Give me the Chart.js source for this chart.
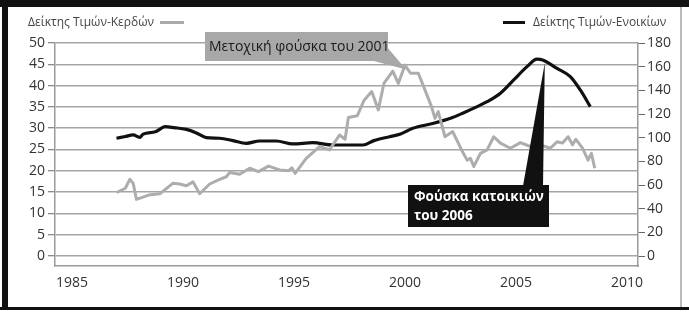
<!DOCTYPE html>
<html>
<head>
<meta charset="utf-8">
<script src="https://cdn.jsdelivr.net/npm/chart.js@4.4.0/dist/chart.umd.min.js"></script>
<style>
  html, body { margin: 0; padding: 0; background: #fff; }
  #wrap { position: relative; width: 689px; height: 312px; overflow: hidden; font-family: "Open Sans", sans-serif; }
  #c { position: absolute; left: 0; top: 0; }
  .bar { position: absolute; }
  .leg { position: absolute; top: 14px; font-size: 12px; line-height: 16px; color: #444; white-space: nowrap; }
  .dash { display: inline-block; height: 3px; vertical-align: middle; }
</style>
</head>
<body>
<div id="wrap">
  <canvas id="c" width="689" height="312"></canvas>
  <div class="bar" style="left:0;top:0;width:689px;height:7px;background:#111"></div>
  <div class="bar" style="left:2px;top:0;width:6px;height:310px;background:#111"></div>
  <div class="bar" style="left:0;top:307px;width:689px;height:3px;background:#111"></div>
  <div class="bar" style="left:680px;top:7px;width:2px;height:300px;background:#bbb"></div>
  <div class="leg" style="left:28px">Δείκτης Τιμών-Κερδών <span class="dash" style="width:24px;background:#aaa;margin-left:3px"></span></div>
  <div class="leg" style="left:503px"><span class="dash" style="width:22px;background:#111;margin-right:8px"></span>Δείκτης Τιμών-Ενοικίων</div>
</div>
<script>
// Δείκτης Τιμών-Κερδών (αριστερός άξονας)
const peYears = [1987.0,1987.4,1987.6,1987.75,1987.9,1988.45,1988.95,1989.55,1989.85,1990.15,1990.45,1990.75,1991.2,1991.65,1991.95,1992.1,1992.55,1993.0,1993.4,1993.85,1994.35,1994.75,1994.9,1995.05,1995.55,1996.15,1996.6,1997.05,1997.3,1997.45,1997.85,1998.15,1998.5,1998.8,1999.05,1999.45,1999.7,2000.0,2000.25,2000.6,2000.9,2001.2,2001.35,2001.5,2001.8,2002.15,2002.55,2002.8,2002.95,2003.1,2003.4,2003.7,2004.0,2004.3,2004.75,2005.2,2005.65,2006.1,2006.55,2006.85,2007.1,2007.35,2007.55,2007.7,2008.0,2008.25,2008.4,2008.55];
const peValues = [14.9,15.9,18.0,17.1,13.3,14.3,14.6,17.1,16.9,16.5,17.4,14.6,16.9,18.0,18.6,19.6,19.2,20.6,19.8,21.1,20.2,20.0,20.7,19.4,22.9,25.7,24.9,28.4,27.4,32.5,32.9,36.5,38.6,34.3,40.5,43.4,40.5,44.8,42.9,42.9,39.0,35.0,32.3,33.9,28.0,29.2,24.9,22.5,22.9,21.0,24.1,24.9,28.0,26.5,25.3,26.6,25.7,26.1,25.3,26.8,26.5,28.0,26.1,27.4,25.3,22.5,24.1,20.6];

// Δείκτης Τιμών-Ενοικίων (δεξιός άξονας)
const rentYears = [1987.0,1987.4,1987.75,1988.05,1988.2,1988.75,1989.2,1989.6,1990.15,1990.6,1991.05,1991.65,1992.25,1992.85,1993.45,1994.2,1994.95,1995.85,1996.75,1997.5,1998.1,1998.6,1999.3,1999.8,2000.35,2001.25,2002.05,2002.65,2003.25,2003.7,2004.3,2004.9,2005.5,2005.95,2006.2,2006.85,2007.45,2007.9,2008.35];
const rentValues = [99.5,101,102.3,100.3,103,105,109.3,108.5,107,104,100,99.5,97.5,95.2,97.2,97.2,94.7,95.8,93.8,93.8,93.8,97.5,100.8,103,107.9,112,116.4,121.1,126.2,130.4,137.5,148.8,160,166.3,165.7,158.6,151.6,140.3,126.2];

const yearTicks = [1985, 1990, 1995, 2000, 2005, 2010];
const leftTicks = [0, 5, 10, 15, 20, 25, 30, 35, 40, 45, 50];
const rightTicks = [0, 20, 40, 60, 80, 100, 120, 140, 160, 180];

const stockNote = 'Μετοχική φούσκα του 2001';
const houseNote = ['Φούσκα κατοικιών', 'του 2006'];

const zip = (xs, ys) => xs.map((x, i) => ({ x: x, y: ys[i] }));
const setTicks = list => axis => { axis.ticks = list.map(v => ({ value: v })); };

const calloutPlugin = {
  id: 'callouts',
  afterDatasetsDraw(chart) {
    const ctx = chart.ctx;
    const x = chart.scales.x, yl = chart.scales.yL, yr = chart.scales.yR;
    ctx.save();
    // stock bubble
    ctx.fillStyle = '#a8a8a8';
    ctx.beginPath();
    ctx.moveTo(370, 60);
    ctx.lineTo(387, 47);
    ctx.lineTo(x.getPixelForValue(2000.05), yl.getPixelForValue(43.8));
    ctx.closePath();
    ctx.fill();
    ctx.fillRect(205, 32, 183, 29);
    ctx.fillStyle = '#1a1a1a';
    ctx.font = '14px "Open Sans"';
    ctx.textBaseline = 'middle';
    ctx.fillText(stockNote, 209, 47);
    // housing bubble
    ctx.fillStyle = '#111';
    ctx.beginPath();
    ctx.moveTo(523, 186);
    ctx.lineTo(543, 186);
    ctx.lineTo(x.getPixelForValue(2006.3), yr.getPixelForValue(163));
    ctx.closePath();
    ctx.fill();
    ctx.fillRect(408, 185, 141, 42);
    ctx.fillStyle = '#fff';
    ctx.font = 'bold 13.5px "Open Sans"';
    ctx.fillText(houseNote[0], 414, 197);
    ctx.fillText(houseNote[1], 414, 216);
    ctx.restore();
  }
};

new Chart(document.getElementById('c'), {
  type: 'line',
  data: {
    datasets: [
      {
        label: 'Δείκτης Τιμών-Κερδών',
        data: zip(peYears, peValues),
        yAxisID: 'yL',
        borderColor: '#adadad',
        borderWidth: 3,
        pointRadius: 0,
        tension: 0,
        borderJoinStyle: 'round'
      },
      {
        label: 'Δείκτης Τιμών-Ενοικίων',
        data: zip(rentYears, rentValues),
        yAxisID: 'yR',
        borderColor: '#111111',
        borderWidth: 3.2,
        pointRadius: 0,
        cubicInterpolationMode: 'monotone',
        borderJoinStyle: 'round'
      }
    ]
  },
  options: {
    responsive: false,
    animation: false,
    devicePixelRatio: 1,
    layout: { padding: { top: 43, left: 0, right: 0, bottom: 0 } },
    plugins: { legend: { display: false }, tooltip: { enabled: false } },
    scales: {
      x: {
        type: 'linear',
        min: 1984.23,
        max: 2010.5,
        afterBuildTicks: setTicks(yearTicks),
        afterFit: s => { s.height = 46; },
        grid: { display: false, drawTicks: false },
        border: { display: true, color: '#9a9a9a', width: 1.5 },
        ticks: { color: '#333', padding: 9, maxRotation: 0, font: { family: 'Open Sans', size: 14 }, callback: v => String(v) }
      },
      yL: {
        position: 'left',
        min: -2.35,
        max: 50,
        afterBuildTicks: setTicks(leftTicks),
        afterFit: s => { s.width = 55; },
        grid: { color: '#a5a5a5', lineWidth: 1.5, tickLength: 7, tickColor: '#666', tickWidth: 1 },
        border: { display: true, color: '#9a9a9a', width: 1.5 },
        ticks: { color: '#333', padding: 3, font: { family: 'Open Sans', size: 14 } }
      },
      yR: {
        position: 'right',
        min: -8.45,
        max: 180,
        afterBuildTicks: setTicks(rightTicks),
        afterFit: s => { s.width = 51; },
        grid: { drawOnChartArea: false, tickLength: 7, tickColor: '#666', tickWidth: 1 },
        border: { display: true, color: '#9a9a9a', width: 1.5 },
        ticks: { color: '#333', padding: 2, font: { family: 'Open Sans', size: 14 } }
      }
    }
  },
  plugins: [calloutPlugin]
});
</script>
</body>
</html>
